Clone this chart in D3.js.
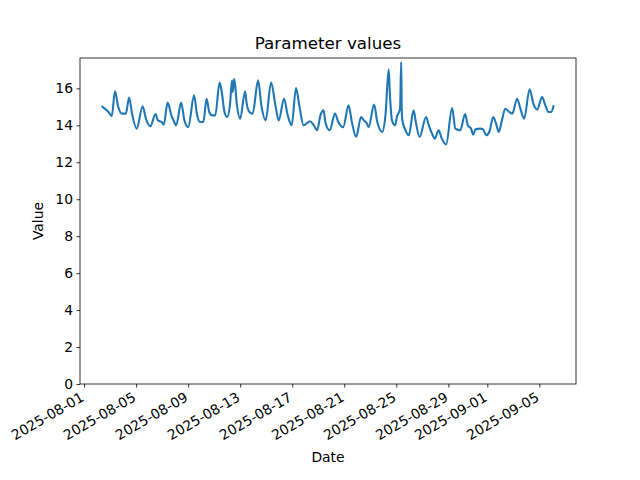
<!DOCTYPE html>
<html>
<head>
<meta charset="utf-8">
<script src="https://cdn.jsdelivr.net/npm/d3@7"></script>
<style>
  body { margin: 0; background: #fff; }
  svg { display: block; font-family: "DejaVu Sans", sans-serif; }
</style>
</head>
<body>
<svg id="chart" width="640" height="480"></svg>
<script>
// Timestamps (UTC, "YYYY-MM-DD HH") and values
const times = [
  "2025-08-02 10","2025-08-02 21","2025-08-03 03","2025-08-03 09","2025-08-03 15","2025-08-03 22",
  "2025-08-04 05","2025-08-04 11","2025-08-04 17","2025-08-05 01","2025-08-05 12","2025-08-05 18",
  "2025-08-06 02","2025-08-06 12","2025-08-06 16","2025-08-06 23","2025-08-07 03","2025-08-07 10",
  "2025-08-07 17","2025-08-07 21","2025-08-08 02","2025-08-08 11","2025-08-08 17","2025-08-09 00",
  "2025-08-09 11","2025-08-09 16","2025-08-09 22","2025-08-10 04","2025-08-10 10","2025-08-10 15",
  "2025-08-10 20","2025-08-11 02","2025-08-11 10","2025-08-11 14","2025-08-11 19","2025-08-12 00",
  "2025-08-12 05","2025-08-12 09","2025-08-12 10","2025-08-12 13","2025-08-12 18","2025-08-13 00",
  "2025-08-13 09","2025-08-13 12","2025-08-13 17","2025-08-13 23","2025-08-14 09","2025-08-14 15",
  "2025-08-14 23","2025-08-15 09","2025-08-15 17","2025-08-15 23","2025-08-16 09","2025-08-16 15",
  "2025-08-16 23","2025-08-17 07","2025-08-17 13","2025-08-17 21","2025-08-18 09","2025-08-18 15",
  "2025-08-18 22","2025-08-19 04","2025-08-19 10","2025-08-19 13","2025-08-19 21","2025-08-20 07",
  "2025-08-20 13","2025-08-20 22","2025-08-21 08","2025-08-21 14","2025-08-21 22","2025-08-22 07",
  "2025-08-22 12","2025-08-22 18","2025-08-22 21","2025-08-23 07","2025-08-23 13","2025-08-23 22",
  "2025-08-24 04","2025-08-24 10","2025-08-24 12","2025-08-24 16","2025-08-24 22","2025-08-25 01",
  "2025-08-25 05","2025-08-25 07","2025-08-25 09","2025-08-25 10","2025-08-25 11","2025-08-25 17",
  "2025-08-25 23","2025-08-26 08","2025-08-26 12","2025-08-26 19","2025-08-27 07","2025-08-27 12",
  "2025-08-27 18","2025-08-27 23","2025-08-28 06","2025-08-28 12","2025-08-28 20","2025-08-29 07",
  "2025-08-29 13","2025-08-29 22","2025-08-30 07","2025-08-30 12","2025-08-30 18","2025-08-30 22",
  "2025-08-31 02","2025-08-31 11","2025-08-31 16","2025-08-31 22","2025-09-01 04","2025-09-01 11",
  "2025-09-01 17","2025-09-01 21","2025-09-02 03","2025-09-02 09","2025-09-02 15","2025-09-02 22",
  "2025-09-03 07","2025-09-03 13","2025-09-03 20","2025-09-04 06","2025-09-04 13","2025-09-04 20",
  "2025-09-05 05","2025-09-05 11","2025-09-05 17","2025-09-05 22","2025-09-06 02"
];
const values = [
  15.0,14.72,14.5,15.84,14.99,14.63,
  14.63,15.5,14.54,13.82,15.03,14.36,
  13.95,14.61,14.27,14.18,14.04,15.23,
  14.54,14.27,14.0,15.23,14.27,13.9,
  15.62,14.63,14.18,14.18,15.44,14.72,
  14.54,14.54,16.31,15.8,14.72,14.45,
  15.08,16.43,15.8,16.52,15.08,14.36,
  15.84,15.17,14.72,14.63,16.43,15.08,
  14.27,16.31,15.08,14.27,15.44,14.63,
  14.0,16.02,15.08,14.0,14.22,14.04,
  13.73,14.54,14.81,14.18,13.73,14.63,
  14.18,13.9,15.08,14.18,13.37,14.45,
  14.27,14.09,13.9,15.12,14.18,13.64,
  14.54,17.03,15.8,14.27,14.0,14.45,
  14.72,14.9,17.42,15.0,14.3,13.73,
  13.46,14.81,14.18,13.37,14.45,14.0,
  13.55,13.28,13.73,13.28,12.96,14.94,
  13.82,13.73,14.61,14.0,13.82,13.5,
  13.78,13.82,13.78,13.46,13.68,14.45,
  14.0,13.64,14.27,14.9,14.76,14.63,
  15.44,14.9,14.36,15.95,15.17,14.85,
  15.53,15.08,14.72,14.72,15.03
];
const xTickLabels = ["2025-08-01","2025-08-05","2025-08-09","2025-08-13","2025-08-17",
                     "2025-08-21","2025-08-25","2025-08-29","2025-09-01","2025-09-05"];
const yTickValues = [0,2,4,6,8,10,12,14,16];

const parseT = d3.utcParse("%Y-%m-%d %H");
const parseD = d3.utcParse("%Y-%m-%d");
const data = times.map((t, i) => ({ t: parseT(t), v: values[i] }));

const svg = d3.select("#chart");
const L = 80, R = 576, T = 58, B = 384;
const FONT = "DejaVu Sans, sans-serif";

// matplotlib-like 5% margins on x
const [t0, t1] = d3.extent(data, d => +d.t);
const pad = (t1 - t0) * 0.05;
const x = d3.scaleUtc().domain([new Date(t0 - pad), new Date(t1 + pad)]).range([L, R]);
const [vmin, vmax] = d3.extent(values);
const y = d3.scaleLinear().domain([0, vmax + 0.05 * (vmax - vmin)]).range([B, T]);

// line
svg.append("path")
  .datum(data)
  .attr("fill", "none")
  .attr("stroke", "#1f77b4")
  .attr("stroke-width", 2.1)
  .attr("stroke-linejoin", "round")
  .attr("stroke-linecap", "square")
  .attr("d", d3.line().curve(d3.curveMonotoneX).x(d => x(d.t)).y(d => y(d.v)));

// axes
const fmt = d3.utcFormat("%Y-%m-%d");
const xAxis = d3.axisBottom(x)
  .tickValues(xTickLabels.map(parseD))
  .tickFormat(fmt)
  .tickSize(3.5).tickPadding(3.5);
const gx = svg.append("g").attr("transform", `translate(0,${B})`).call(xAxis)
  .attr("font-family", FONT).attr("font-size", "13.9px");
gx.select(".domain").remove();
gx.selectAll("line").attr("stroke", "#000").attr("stroke-width", 0.8);
gx.selectAll("text")
  .attr("fill", "#000")
  .attr("text-anchor", "end")
  .attr("y", 0).attr("dy", "0.76em")
  .attr("transform", "translate(-5,7) rotate(-30)");

const yAxis = d3.axisLeft(y).tickValues(yTickValues).tickSize(3.5).tickPadding(3.5);
const gy = svg.append("g").attr("transform", `translate(${L},0)`).call(yAxis)
  .attr("font-family", FONT).attr("font-size", "13.9px");
gy.select(".domain").remove();
gy.selectAll("line").attr("stroke", "#000").attr("stroke-width", 0.8);
gy.selectAll("text").attr("fill", "#000");

// frame
svg.append("rect")
  .attr("x", L).attr("y", T).attr("width", R - L).attr("height", B - T)
  .attr("fill", "none").attr("stroke", "#000").attr("stroke-width", 0.8);

// labels
svg.append("text").attr("x", (L + R) / 2).attr("y", 49)
  .attr("text-anchor", "middle").attr("font-size", "16.7px").text("Parameter values");
svg.append("text").attr("x", (L + R) / 2).attr("y", 462)
  .attr("text-anchor", "middle").attr("font-size", "13.9px").text("Date");
svg.append("text").attr("transform", `translate(43,${(T + B) / 2}) rotate(-90)`)
  .attr("text-anchor", "middle").attr("font-size", "13.9px").text("Value");
</script>
</body>
</html>
